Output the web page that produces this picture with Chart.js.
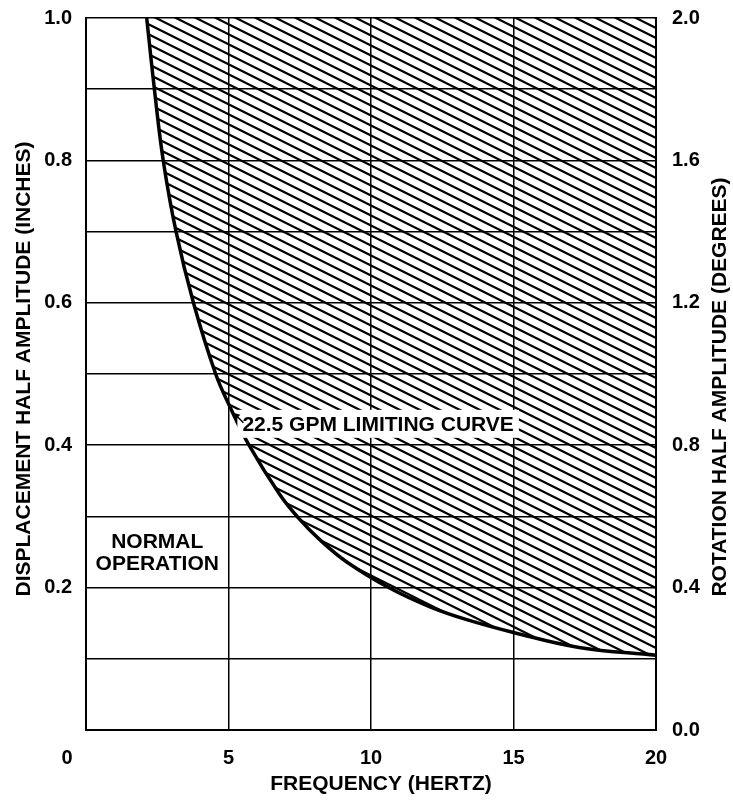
<!DOCTYPE html>
<html>
<head>
<meta charset="utf-8">
<script src="https://cdn.jsdelivr.net/npm/chart.js@4.4.0/dist/chart.umd.min.js"></script>
<style>
html,body{margin:0;padding:0;background:#fff;}
#wrap{width:733px;height:800px;position:relative;}
</style>
</head>
<body>
<div id="wrap"><canvas id="c" width="733" height="800"></canvas></div>
<script>
// ---- data ----
const frequencyHz    = [2.13, 2.40, 2.71, 3.16, 3.77, 4.55, 5.05, 5.72, 6.81, 7.45, 8.21, 9.15, 10.67, 12.07, 13.36, 15.0, 17.3, 20.0];
const displacementIn = [1.00, 0.90, 0.80, 0.70, 0.60, 0.50, 0.454, 0.40, 0.330, 0.298, 0.267, 0.236, 0.199, 0.173, 0.155, 0.137, 0.116, 0.105];
const xTickLabels     = ['0', '5', '10', '15', '20'];
const leftTickLabels  = ['0.2', '0.4', '0.6', '0.8', '1.0'];
const rightTickLabels = ['0.0', '0.4', '0.8', '1.2', '1.6', '2.0'];
const xTitle  = 'FREQUENCY (HERTZ)';
const yTitle  = 'DISPLACEMENT HALF AMPLITUDE (INCHES)';
const y2Title = 'ROTATION HALF AMPLITUDE (DEGREES)';
const curveLabel  = '22.5 GPM LIMITING CURVE';
const regionLabel = ['NORMAL', 'OPERATION'];

const FONT = '"Liberation Sans", Arial, sans-serif';
const TEXT_SIZE = 21;
const TICK_SIZE = 20;

const canvas = document.getElementById('c');
const mainCtx = canvas.getContext('2d');

function makeHatch() {
  const W = 40, H = 20;
  const t = document.createElement('canvas');
  t.width = W; t.height = H;
  const g = t.getContext('2d');
  g.strokeStyle = '#000';
  g.lineWidth = 2.2;
  for (let k = -6; k <= 6; k++) {
    const x0 = k * 20;
    g.beginPath();
    g.moveTo(x0 - 80, -40);
    g.lineTo(x0 + 80, 40);
    g.stroke();
  }
  return mainCtx.createPattern(t, 'repeat');
}

const points = frequencyHz.map((f, i) => ({ x: f, y: displacementIn[i] }));

const annot = {
  id: 'annot',
  afterDatasetsDraw(chart) {
    const { ctx, scales: { x, y } } = chart;
    ctx.save();
    ctx.font = 'bold ' + TEXT_SIZE + 'px ' + FONT;
    const cx = x.getPixelForValue(10.25);
    const cy = y.getPixelForValue(0.43);
    const w = ctx.measureText(curveLabel).width;
    ctx.fillStyle = '#fff';
    ctx.fillRect(cx - w / 2 - 5, cy - 14, w + 10, 28);
    ctx.fillStyle = '#000';
    ctx.textAlign = 'center';
    ctx.textBaseline = 'middle';
    ctx.fillText(curveLabel, cx, cy + 1);
    // small leader arrow toward the curve
    const ax = cx - w / 2 - 3, ay = cy;
    ctx.strokeStyle = '#000';
    ctx.lineWidth = 1.5;
    ctx.beginPath();
    ctx.moveTo(ax + 4, ay - 1);
    ctx.lineTo(ax - 4, ay - 9);
    ctx.stroke();
    ctx.beginPath();
    ctx.moveTo(ax - 6, ay - 11);
    ctx.lineTo(ax - 4, ay - 4);
    ctx.lineTo(ax + 1, ay - 9);
    ctx.closePath();
    ctx.fill();
    // NORMAL OPERATION
    const nx = x.getPixelForValue(2.5);
    ctx.fillText(regionLabel[0], nx, y.getPixelForValue(0.264));
    ctx.fillText(regionLabel[1], nx, y.getPixelForValue(0.233));
    ctx.restore();
  },
  afterDraw(chart) {
    const { ctx, scales: { x } } = chart;
    ctx.save();
    ctx.fillStyle = '#000';
    ctx.textAlign = 'center';
    ctx.textBaseline = 'middle';
    ctx.font = 'bold ' + TICK_SIZE + 'px ' + FONT;
    ctx.fillText(xTickLabels[0], x.getPixelForValue(0) - 19, 758);
    ctx.font = 'bold ' + TEXT_SIZE + 'px ' + FONT;
    ctx.fillText(xTitle, 381, 784);
    ctx.translate(24, 369);
    ctx.rotate(-Math.PI / 2);
    ctx.fillText(yTitle, 0, 0);
    ctx.restore();
    ctx.save();
    ctx.fillStyle = '#000';
    ctx.textAlign = 'center';
    ctx.textBaseline = 'middle';
    ctx.font = 'bold ' + TEXT_SIZE + 'px ' + FONT;
    ctx.translate(720, 387);
    ctx.rotate(-Math.PI / 2);
    ctx.fillText(y2Title, 0, 0);
    ctx.restore();
  }
};

const tickFont = { family: FONT, size: TICK_SIZE, weight: 'bold' };

new Chart(canvas, {
  type: 'scatter',
  data: {
    datasets: [{
      label: curveLabel,
      data: points,
      showLine: true,
      tension: 0.4,
      borderColor: '#000',
      borderWidth: 3.5,
      pointRadius: 0,
      fill: 'end',
      backgroundColor: makeHatch()
    }]
  },
  options: {
    responsive: false,
    animation: false,
    events: [],
    layout: { padding: { top: 18, left: 0, right: 0, bottom: 0 } },
    plugins: { legend: { display: false }, tooltip: { enabled: false } },
    scales: {
      x: {
        type: 'linear', min: 0, max: 20,
        afterBuildTicks(s) { s.ticks = xTickLabels.map(v => ({ value: Number(v) })); },
        afterFit(s) { s.height = 70; s.paddingLeft = 0; s.paddingRight = 0; },
        grid: { color: '#000', lineWidth: 1.5, drawTicks: false },
        border: { color: '#000', width: 2 },
        ticks: {
          color: '#000', font: tickFont, padding: 16, maxRotation: 0,
          callback: (v) => (v === 0 ? '' : String(v))
        }
      },
      y: {
        type: 'linear', position: 'left', min: 0, max: 1,
        afterBuildTicks(s) {
          const t = [];
          for (let i = 0; i <= 10; i++) t.push({ value: i / 10 });
          s.ticks = t;
        },
        afterFit(s) { s.width = 86; s.paddingTop = 0; s.paddingBottom = 0; },
        grid: { color: '#000', lineWidth: 1.5, drawTicks: false },
        border: { color: '#000', width: 2 },
        ticks: {
          color: '#000', font: tickFont, padding: 14,
          callback: (v) => {
            const k = Math.round(v * 10);
            return (k > 0 && k % 2 === 0) ? leftTickLabels[k / 2 - 1] : '';
          }
        }
      },
      y2: {
        type: 'linear', position: 'right', min: 0, max: 2,
        afterBuildTicks(s) { s.ticks = rightTickLabels.map(v => ({ value: Number(v) })); },
        afterFit(s) { s.width = 77; s.paddingTop = 0; s.paddingBottom = 0; },
        grid: { display: false, drawTicks: false },
        border: { color: '#000', width: 2 },
        ticks: {
          color: '#000', font: tickFont, padding: 16,
          callback: (v) => Number(v).toFixed(1)
        }
      }
    }
  },
  plugins: [annot]
});
</script>
</body>
</html>
